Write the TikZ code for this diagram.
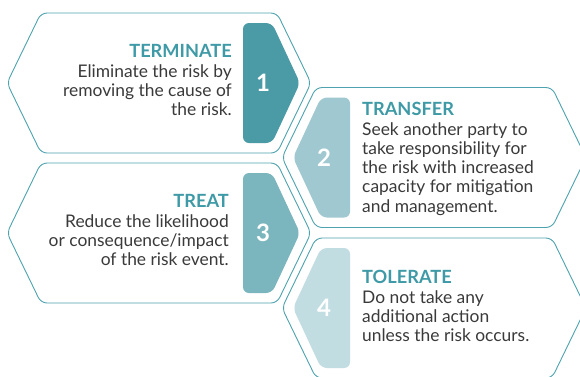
\documentclass[tikz,border=0pt]{standalone}
\usepackage{fontspec}
\setmainfont{Lato}
\usetikzlibrary{positioning}

\definecolor{hexline}{HTML}{4DA3AE}
\definecolor{tabA}{HTML}{4A9BA5}
\definecolor{tabB}{HTML}{A0C8D0}
\definecolor{tabC}{HTML}{7BB5BD}
\definecolor{tabD}{HTML}{C2DDE2}
\definecolor{headteal}{HTML}{3E9AA6}
\definecolor{bodygray}{HTML}{3A3A3A}

\tikzset{
  hexcell/.style={draw=hexline, fill=white, line width=0.9pt, rounded corners=6pt},
  numtext/.style={text=white, inner sep=0pt, font=\bfseries\fontsize{24}{24}\selectfont},
  headtext/.style={text=headteal, inner sep=0pt, font=\bfseries\fontsize{18.2}{19}\selectfont},
  bodytext/.style={text=bodygray, inner sep=0pt, font=\fontsize{17.4}{19.2}\selectfont},
}

\begin{document}
\begin{tikzpicture}[x=1pt, y=-1pt, line join=round]
  \useasboundingbox (0,0) rectangle (580,376);
  % hexagons and their numbered tabs
  \foreach \cx/\cy/\d/\col/\num/\nx in {159/83/1/tabA/1/104, 434/157.5/-1/tabB/2/-110,
                                         159/233/1/tabC/3/104, 434/308/-1/tabD/4/-110}{
    \draw[hexcell] (\cx-152,\cy) -- (\cx-118,\cy-70) -- (\cx+118,\cy-70) -- (\cx+152,\cy)
      -- (\cx+118,\cy+70) -- (\cx-118,\cy+70) -- cycle;
    \fill[\col, rounded corners=6pt] (\cx+\d*84,\cy-60) -- (\cx+\d*113,\cy-60) -- (\cx+\d*141,\cy)
      -- (\cx+\d*113,\cy+60) -- (\cx+\d*84,\cy+60) -- cycle;
    \node[numtext] (n\num) at (\cx+\nx,\cy) {\num};
  }

  % texts
  \node[headtext, anchor=base east] (h1) at (232,57) {TERMINATE};
  \node[bodytext, align=right, below=7pt of h1.south east, anchor=north east] (b1)
    {Eliminate the risk by\\removing the cause of\\the risk.};

  \node[headtext, anchor=base west] (h2) at (362,115) {TRANSFER};
  \node[bodytext, align=left, below=7pt of h2.south west, anchor=north west] (b2)
    {Seek another party to\\take responsibility for\\the risk with increased\\capacity for mitigation\\and management.};

  \node[headtext, anchor=base east] (h3) at (229,207) {TREAT};
  \node[bodytext, align=right, below=7pt of h3.south east, anchor=north east] (b3)
    {Reduce the likelihood\\or consequence/impact\\of the risk event.};

  \node[headtext, anchor=base west] (h4) at (362,283) {TOLERATE};
  \node[bodytext, align=left, below=7pt of h4.south west, anchor=north west] (b4)
    {Do not take any\\additional action\\unless the risk occurs.};
\end{tikzpicture}
\end{document}
